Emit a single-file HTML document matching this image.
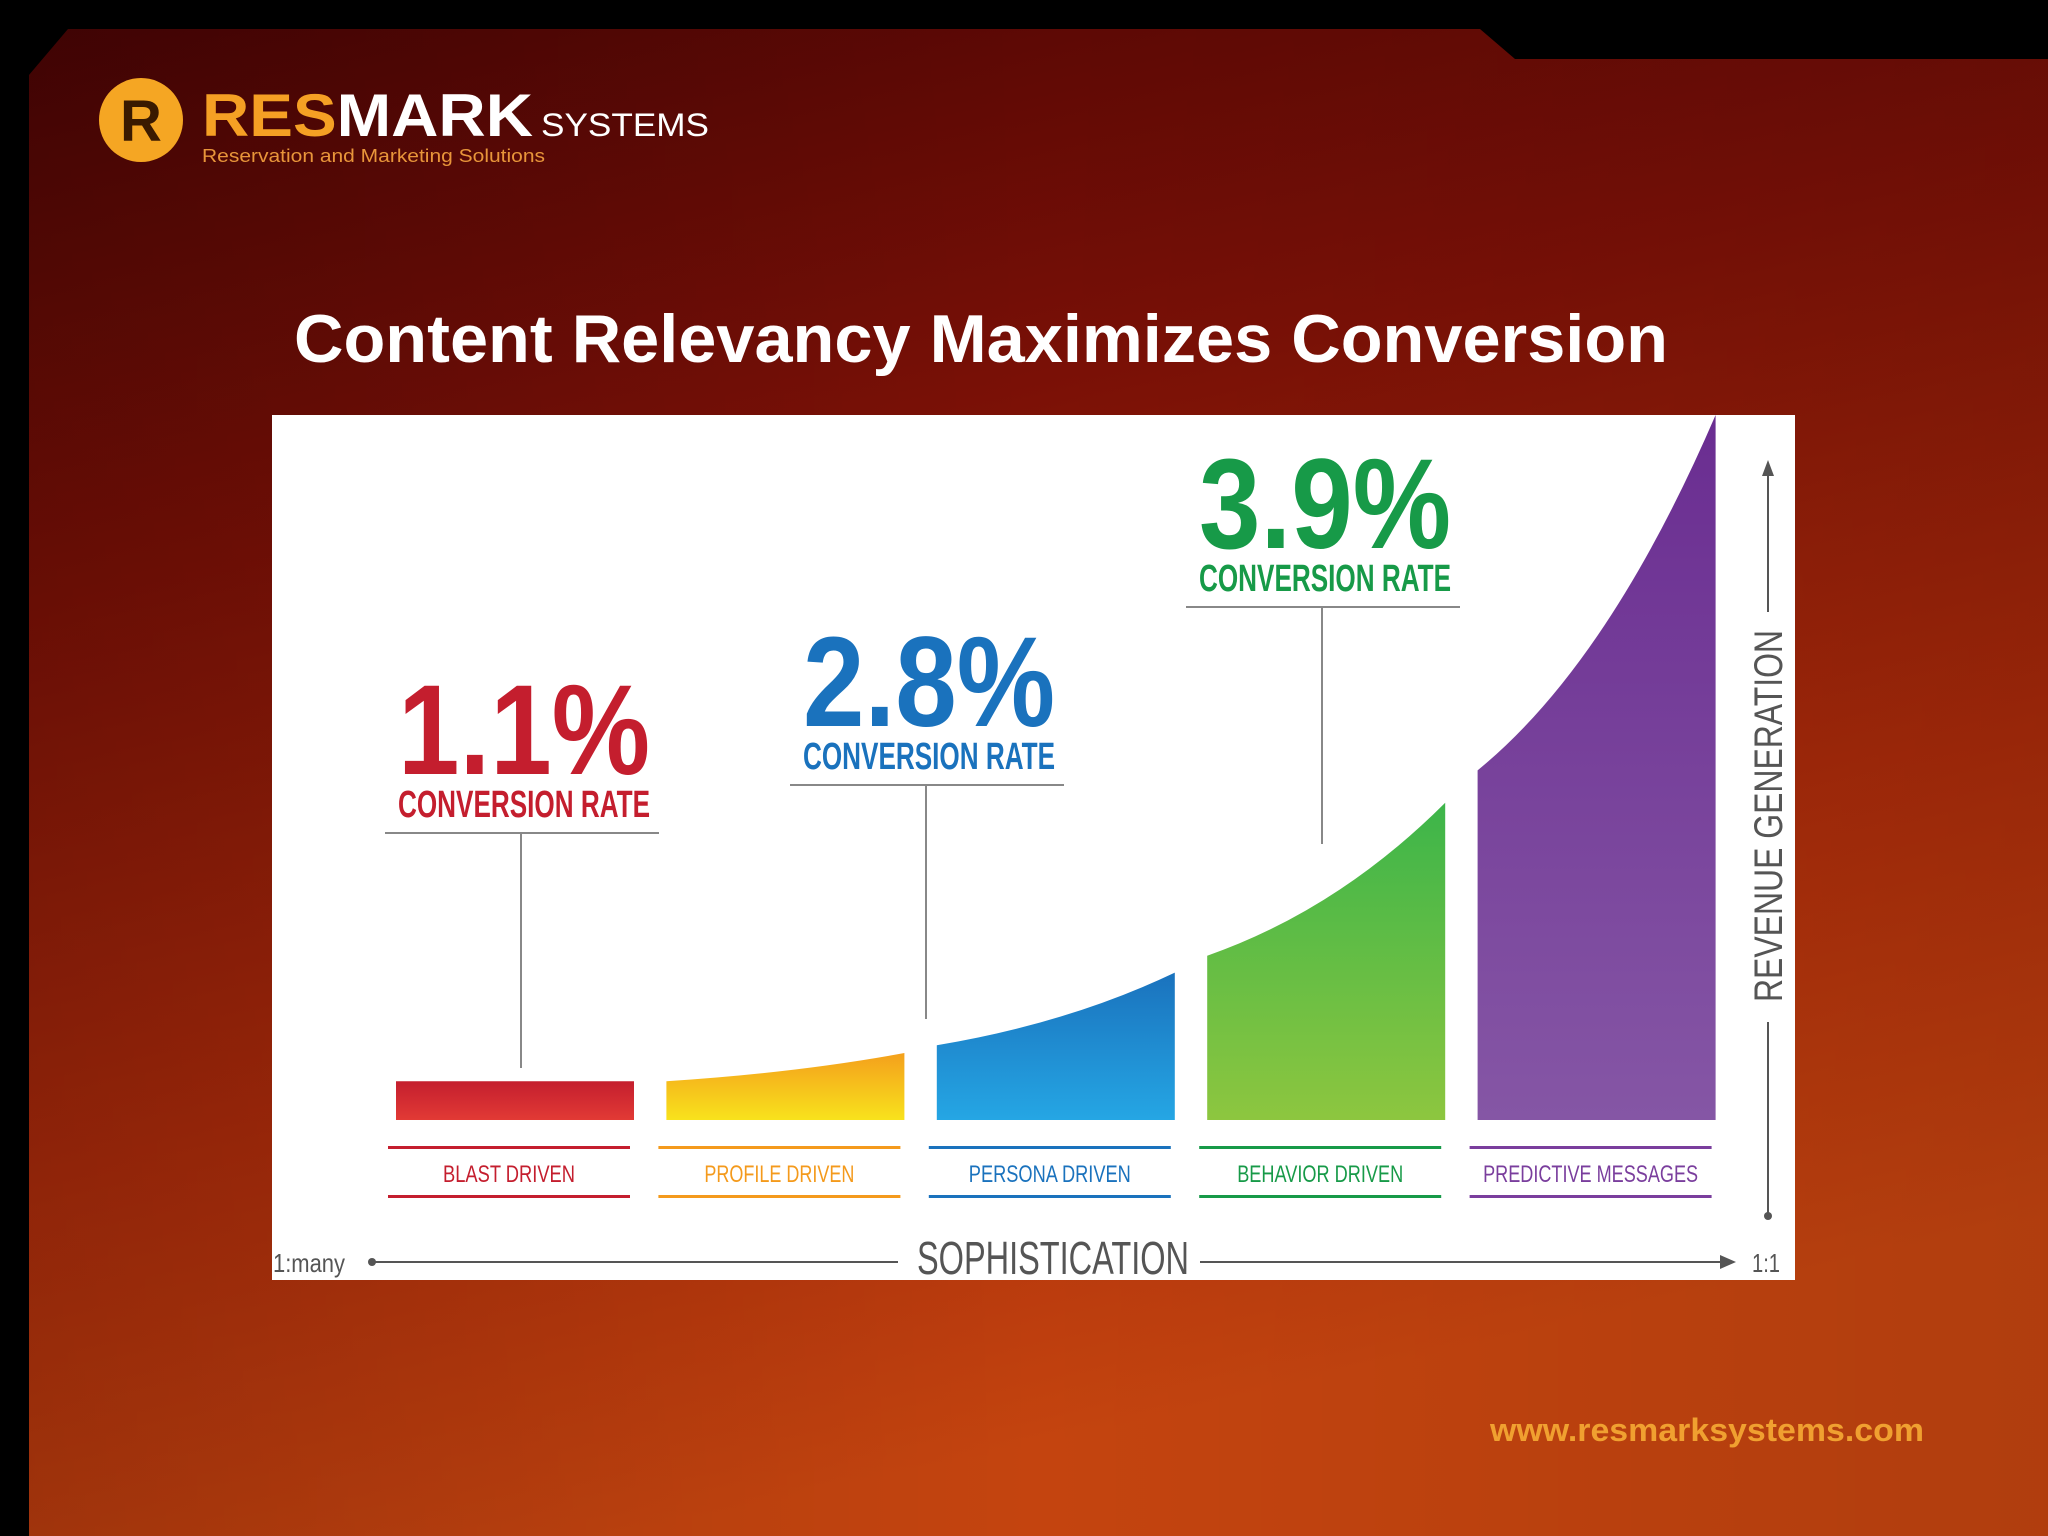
<!DOCTYPE html>
<html><head><meta charset="utf-8"><style>
html,body{margin:0;padding:0;width:2048px;height:1536px;overflow:hidden;background:#000}
svg{display:block}
.nar{font-family:"Liberation Sans Narrow","Liberation Sans",sans-serif;}
</style></head><body>
<svg id="chart" width="2048" height="1536" viewBox="0 0 2048 1536" xmlns="http://www.w3.org/2000/svg">
<defs>
<linearGradient id="bg" x1="0" y1="0" x2="0.3" y2="1">
<stop offset="0" stop-color="#4a0404"/><stop offset="0.35" stop-color="#7a1006"/><stop offset="0.7" stop-color="#a82a0a"/><stop offset="1" stop-color="#c4440f"/></linearGradient>
<linearGradient id="bgs" x1="0" y1="0" x2="1" y2="0">
<stop offset="0" stop-color="#000" stop-opacity="0.15"/><stop offset="0.5" stop-color="#000" stop-opacity="0"/><stop offset="1" stop-color="#000" stop-opacity="0.1"/></linearGradient>
<linearGradient id="g0" x1="0" y1="0" x2="0" y2="1"><stop offset="0" stop-color="#c41e2e"/><stop offset="1" stop-color="#e23a35"/></linearGradient>
<linearGradient id="g1" x1="0" y1="0" x2="0" y2="1"><stop offset="0" stop-color="#f4a01c"/><stop offset="1" stop-color="#f8e21c"/></linearGradient>
<linearGradient id="g2" x1="0" y1="0" x2="0" y2="1"><stop offset="0" stop-color="#1a72bd"/><stop offset="1" stop-color="#25a6e4"/></linearGradient>
<linearGradient id="g3" x1="0" y1="0" x2="0" y2="1"><stop offset="0" stop-color="#3cb54a"/><stop offset="1" stop-color="#8dc63f"/></linearGradient>
<linearGradient id="g4" x1="0" y1="0" x2="0" y2="1"><stop offset="0" stop-color="#6a2d91"/><stop offset="1" stop-color="#8556a5"/></linearGradient>
</defs>
<rect width="2048" height="1536" fill="#000"/>
<polygon points="68,29 1480,29 1515,59 2048,59 2048,1536 29,1536 29,75" fill="url(#bg)"/>
<polygon points="68,29 1480,29 1515,59 2048,59 2048,1536 29,1536 29,75" fill="url(#bgs)"/>
<g>
<circle cx="141" cy="120" r="42" fill="#f5a623"/>
<text x="141" y="141" text-anchor="middle" font-family="Liberation Sans" font-weight="bold" font-size="58" fill="#3a1a00">R</text>
<text x="202" y="136" font-family="Liberation Sans" font-weight="bold" font-size="60" textLength="331" lengthAdjust="spacingAndGlyphs"><tspan fill="#f5a024">RES</tspan><tspan fill="#fff">MARK</tspan></text>
<text x="541" y="136" font-family="Liberation Sans" font-size="32" fill="#fff" textLength="168" lengthAdjust="spacingAndGlyphs">SYSTEMS</text>
<text x="202" y="162" font-family="Liberation Sans" font-size="18" fill="#e8953a" textLength="343" lengthAdjust="spacingAndGlyphs">Reservation and Marketing Solutions</text>
</g>
<text x="294" y="362" font-family="Liberation Sans" font-weight="bold" font-size="68" fill="#fff" textLength="1374" lengthAdjust="spacingAndGlyphs">Content Relevancy Maximizes Conversion</text>
<rect x="272" y="415" width="1523" height="865" fill="#fff"/>
<g id="bars"></g>
<g id="callouts"></g>
<g id="cats"></g>
<g>
<line x1="1768" y1="470" x2="1768" y2="612" stroke="#555" stroke-width="2"/>
<line x1="1768" y1="1022" x2="1768" y2="1214" stroke="#555" stroke-width="2"/>
<polygon points="1768,460 1762,476 1774,476" fill="#555"/>
<circle cx="1768" cy="1216" r="4" fill="#555"/>
<text class="nar" transform="translate(1782,816) rotate(-90)" text-anchor="middle" font-size="40" fill="#555" textLength="372" lengthAdjust="spacingAndGlyphs">REVENUE GENERATION</text>
</g>
<g>
<circle cx="372" cy="1262" r="4" fill="#555"/>
<line x1="372" y1="1262" x2="898" y2="1262" stroke="#555" stroke-width="2"/>
<line x1="1200" y1="1262" x2="1728" y2="1262" stroke="#555" stroke-width="2"/>
<polygon points="1736,1262 1720,1255 1720,1269" fill="#555"/>
<text class="nar" x="1053" y="1274" text-anchor="middle" font-size="46" fill="#555" textLength="272" lengthAdjust="spacingAndGlyphs">SOPHISTICATION</text>
<text class="nar" x="273" y="1272" font-size="26" fill="#555" textLength="72" lengthAdjust="spacingAndGlyphs">1:many</text>
<text class="nar" x="1752" y="1272" font-size="26" fill="#555" textLength="28" lengthAdjust="spacingAndGlyphs">1:1</text>
</g>
<text x="1490" y="1441" font-family="Liberation Sans" font-weight="bold" font-size="32" fill="#f0a030" textLength="434" lengthAdjust="spacingAndGlyphs">www.resmarksystems.com</text>
</svg>
<script>
const categories = ["BLAST DRIVEN","PROFILE DRIVEN","PERSONA DRIVEN","BEHAVIOR DRIVEN","PREDICTIVE MESSAGES"];
const startValues = [5.5, 5.5, 10.6, 23.3, 49.6];
const endValues = [5.5, 9.5, 20.9, 45, 100];
const catColors = ["#c41e2e","#f49a1c","#1a72bd","#179a48","#7a3e9d"];
const rates = ["1.1%","2.8%","3.9%"];
const rateColors = ["#c41e2e","#1a72bd","#179a48"];

const NS = "http://www.w3.org/2000/svg";
const plotLeft = 396, bandStep = 270.4, barW = 238, baseY = 1120, topY = 415, vMax = 100;
const yS = v => baseY - (v / vMax) * (baseY - topY);
const xS = i => plotLeft + i * bandStep;
// callout layout (pixel geometry, not data)
const calloutLayout = [{cx:521,ly:833,bot:1068},{cx:926,ly:785,bot:1019},{cx:1322,ly:607,bot:844}];
const labelWidths = [132,150,162,166,215];
function mk(tag, attrs, parent){const e=document.createElementNS(NS,tag);for(const k in attrs)e.setAttribute(k,attrs[k]);parent.appendChild(e);return e;}

const gb = document.getElementById('bars');
categories.forEach((c,i)=>{
  const x0 = xS(i), x1 = x0 + barW, y0 = yS(startValues[i]), y1 = yS(endValues[i]);
  const cx = x0 + barW*0.55, cy = y0 - (y0 - y1)*0.3;
  const p = mk('path',{d:`M${x0},${baseY} L${x0},${y0} Q${cx},${cy} ${x1},${y1} L${x1},${baseY} Z`, fill:`url(#g${i})`}, gb);
  
  
});

const gc = document.getElementById('cats');
categories.forEach((c,i)=>{
  const x0 = xS(i) - 8, w = barW + 4;
  const g = mk('g',{}, gc);
  
  
  mk('rect',{x:x0,y:1146,width:w,height:3,fill:catColors[i]},g);
  mk('rect',{x:x0,y:1195,width:w,height:3,fill:catColors[i]},g);
  const t = mk('text',{x:x0+w/2,y:1182,'text-anchor':'middle','font-size':24,fill:catColors[i],class:'nar',textLength:labelWidths[i],lengthAdjust:'spacingAndGlyphs'},g);
  t.textContent = c;
});

const go = document.getElementById('callouts');
rates.forEach((r,k)=>{
  const L = calloutLayout[k];
  const g = mk('g',{}, go);
  
  
  mk('line',{x1:L.cx-136,y1:L.ly,x2:L.cx+138,y2:L.ly,stroke:'#888','stroke-width':2},g);
  mk('line',{x1:L.cx,y1:L.ly,x2:L.cx,y2:L.bot,stroke:'#888','stroke-width':2},g);
  const t1 = mk('text',{x:L.cx+3,y:L.ly-59,'text-anchor':'middle','font-size':128,'font-weight':'bold',fill:rateColors[k],class:'nar',textLength:252,lengthAdjust:'spacingAndGlyphs'},g);
  t1.textContent = r;
  const t2 = mk('text',{x:L.cx+3,y:L.ly-16,'text-anchor':'middle','font-size':38,'font-weight':'bold',fill:rateColors[k],class:'nar',textLength:252,lengthAdjust:'spacingAndGlyphs'},g);
  t2.textContent = 'CONVERSION RATE';
});
</script>
</body></html>
